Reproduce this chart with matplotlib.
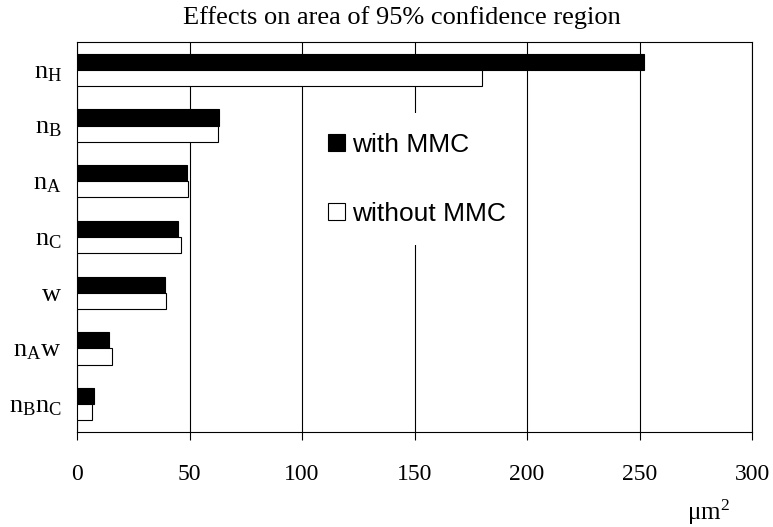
import matplotlib
matplotlib.use("Agg")
import matplotlib.pyplot as plt
import numpy as np
from matplotlib.patches import Patch

plt.rcParams['font.family'] = ['Liberation Serif', 'DejaVu Serif']
plt.rcParams['mathtext.fontset'] = 'custom'
plt.rcParams['mathtext.rm'] = 'Liberation Serif'

# data
categories = [r'$\mathregular{n_H}$', r'$\mathregular{n_B}$', r'$\mathregular{n_A}$',
              r'$\mathregular{n_C}$', r'$\mathregular{w}$', r'$\mathregular{n_Aw}$',
              r'$\mathregular{n_Bn_C}$']
with_mmc = [252, 63, 49, 45, 39, 14, 7.5]
without_mmc = [180, 62.7, 49.5, 46, 39.5, 15.5, 6.5]
xticks = [0, 50, 100, 150, 200, 250, 300]

fig = plt.figure(figsize=(7.73, 5.27), dpi=100)
ax = fig.add_axes([77 / 773, 1 - 432 / 527, (752 - 77) / 773, (432 - 42) / 527])

y = np.arange(len(categories))
h = 0.29
ax.barh(y - h / 2, with_mmc, height=h, color='black', edgecolor='black', lw=0.8, zorder=3)
ax.barh(y + h / 2, without_mmc, height=h, color='white', edgecolor='black', lw=0.8, zorder=3)

ax.set_xlim(0, 300)
ax.set_ylim(len(categories) - 0.5, -0.5)
ax.set_xticks(xticks)
ax.set_yticks(y)
ax.set_yticklabels(categories, fontsize=19)
ax.tick_params(axis='y', length=0, pad=11)
ax.tick_params(axis='x', length=6, width=0.8, direction='out', pad=17, labelsize=17)
ax.xaxis.grid(True, color='black', lw=0.8, zorder=0)
ax.set_axisbelow(True)
for s in ax.spines.values():
    s.set_linewidth(0.8)

handles = [Patch(facecolor='black', edgecolor='black', lw=0.8),
           Patch(facecolor='white', edgecolor='black', lw=0.8)]
leg = ax.legend(handles, ['with MMC', 'without MMC'], loc='upper left',
                bbox_to_anchor=((308 - 77) / 675, (432 - 113) / 390),
                prop={'family': 'Liberation Sans', 'size': 19},
                handlelength=0.65, handleheight=0.62, handletextpad=0.27,
                labelspacing=1.7, borderpad=0.75, borderaxespad=0, frameon=True,
                facecolor='white', edgecolor='none', framealpha=1, fancybox=False)
leg.set_zorder(5)

fig.text(402 / 773, 1 - 18 / 527, 'Effects on area of 95% confidence region',
         ha='center', va='center', fontsize=19)
fig.text(708 / 773, 1 - 512 / 527, r'$\mathregular{\mu m^2}$', ha='center', va='center',
         fontsize=18)

fig.savefig('out.png', dpi=100)
